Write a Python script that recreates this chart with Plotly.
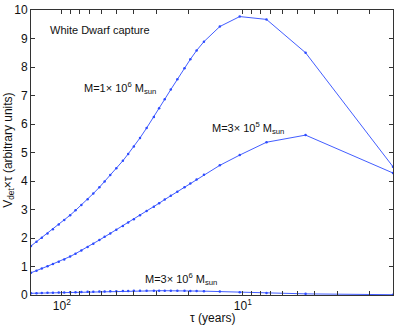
import plotly.graph_objects as go

# tau (years), dense at large tau then sparse
tau = [148, 138, 129, 120, 112, 104, 97, 90, 84, 78, 72, 67, 62, 58, 54, 50,
       46, 43, 40, 37, 34, 31, 29, 27, 25, 23, 21, 19.5, 18, 16.4,
       13.4, 10.4, 7.4, 4.5, 1.48]

v_1e6 = [1.72, 1.87, 2.01, 2.16, 2.31, 2.47, 2.63, 2.80, 2.97, 3.16, 3.36, 3.56,
         3.78, 3.98, 4.21, 4.45, 4.71, 4.95, 5.21, 5.51, 5.86, 6.25, 6.55, 6.87,
         7.21, 7.57, 7.96, 8.27, 8.58, 8.89,
         9.42, 9.77, 9.67, 8.50, 4.50]

v_3e5 = [0.78, 0.85, 0.93, 1.01, 1.09, 1.17, 1.25, 1.35, 1.45, 1.56, 1.68, 1.80,
         1.93, 2.04, 2.16, 2.29, 2.42, 2.54, 2.66, 2.80, 2.95, 3.10, 3.22, 3.35,
         3.48, 3.62, 3.78, 3.91, 4.05, 4.22,
         4.55, 4.91, 5.36, 5.61, 4.28]

v_3e6 = [0.06, 0.065, 0.07, 0.075, 0.08, 0.085, 0.09, 0.095, 0.10, 0.105, 0.11, 0.115,
         0.12, 0.125, 0.13, 0.135, 0.14, 0.14, 0.145, 0.15, 0.15, 0.15, 0.15, 0.15,
         0.15, 0.145, 0.145, 0.14, 0.14, 0.135,
         0.12, 0.10, 0.07, 0.04, 0.01]

xtick_vals = [100, 90, 80, 70, 60, 50, 40, 30, 20, 10, 9, 8, 7, 6, 5, 4, 3, 2]
xtick_text = ['10<sup>2</sup>'] + [''] * 8 + ['10<sup>1</sup>'] + [''] * 8

blue = 'rgb(45,75,255)'
font = 'Liberation Sans, Arial, sans-serif'

fig = go.Figure()
for ys in [v_1e6, v_3e5, v_3e6]:
    fig.add_trace(go.Scatter(x=tau, y=ys, mode='lines+markers',
                             line=dict(color=blue, width=0.9),
                             marker=dict(color=blue, size=2.5),
                             showlegend=False))

axis_common = dict(showline=True, linecolor='#333', linewidth=1, mirror='ticks',
                   ticks='inside', ticklen=4, tickcolor='#333', showgrid=False,
                   zeroline=False, automargin=False,
                   tickfont=dict(family=font, size=12, color='#111'))

fig.update_layout(
    width=398, height=327,
    margin=dict(l=31, r=5, t=10, b=32),
    paper_bgcolor='white', plot_bgcolor='white',
    xaxis=dict(type='log', range=[2.1703, 0.1703], tickvals=xtick_vals,
               ticktext=xtick_text, **axis_common),
    yaxis=dict(range=[0, 10], tickvals=list(range(11)), **axis_common),
    font=dict(family=font, size=11, color='#111'),
)

ann = [
    ('White Dwarf capture', 0.047, 0.93),
    ('M=1× 10<sup>6</sup> M<sub>sun</sub>', 0.141, 0.726),
    ('M=3× 10<sup>5</sup> M<sub>sun</sub>', 0.494, 0.586),
    ('M=3× 10<sup>6</sup> M<sub>sun</sub>', 0.309, 0.055),
]
for txt, ax, ay in ann:
    fig.add_annotation(text=txt, x=ax, y=ay, xref='paper', yref='paper',
                       xanchor='left', yanchor='middle', showarrow=False,
                       font=dict(family=font, size=11, color='#111'))

fig.add_annotation(text='V<sub>det</sub>×τ (arbitrary units)', x=-0.061, y=0.509,
                   xref='paper', yref='paper', showarrow=False, textangle=-90,
                   xanchor='center', yanchor='middle',
                   font=dict(family=font, size=12, color='#111'))
fig.add_annotation(text='τ (years)', x=0.5, y=-0.081, xref='paper', yref='paper',
                   showarrow=False, yanchor='middle',
                   font=dict(family=font, size=12, color='#111'))

# drop the default body margin so the figure fills the window
fig.write_html("out.html", config={'displayModeBar': False},
               post_script="document.body.style.margin='0';")
